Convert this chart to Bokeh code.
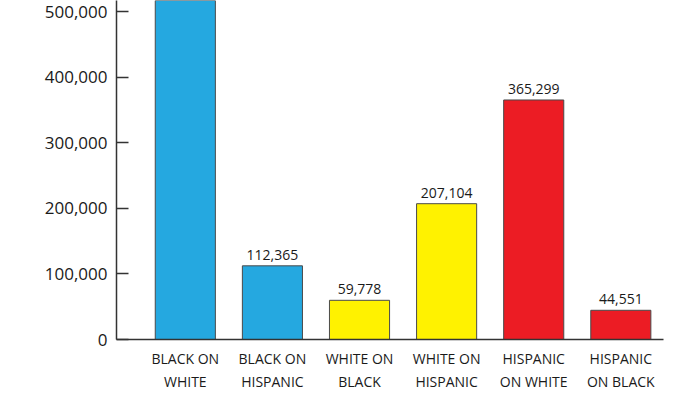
from bokeh.plotting import figure
from bokeh.models import FixedTicker, NumeralTickFormatter, ColumnDataSource, Range1d
from bokeh.embed import file_html
from bokeh.resources import INLINE
from bokeh.core.properties import value

categories = ["BLACK ON\nWHITE", "BLACK ON\nHISPANIC", "WHITE ON\nBLACK",
              "WHITE ON\nHISPANIC", "HISPANIC\nON WHITE", "HISPANIC\nON BLACK"]
values = [560600, 112365, 59778, 207104, 365299, 44551]
# first bar's label lies above the visible area in the reference (not shown)
value_labels = ["", "112,365", "59,778", "207,104", "365,299", "44,551"]
colors = ["#25a8e0", "#25a8e0", "#fff200", "#fff200", "#ec1c24", "#ec1c24"]
y_ticks = [0, 100000, 200000, 300000, 400000, 500000]

xs = list(range(len(categories)))
src = ColumnDataSource(dict(x=xs, top=values, label=value_labels, color=colors))

p = figure(width=700, height=394, output_backend="svg", toolbar_location=None,
           x_range=Range1d(-0.79, 5.49), y_range=Range1d(0, 517000),
           min_border_left=116, min_border_right=37, min_border_top=0,
           min_border_bottom=54)
p.outline_line_color = None
p.grid.visible = False
p.background_fill_color = "white"
p.border_fill_color = "white"

p.vbar(x="x", top="top", width=0.69, bottom=0, fill_color="color",
       line_color="#4a4a4a", line_width=1, source=src)
p.text(x="x", y="top", text="label", source=src, y_offset=-6,
       text_align="center", text_baseline="bottom", text_font_size="14px",
       text_font=value("Open Sans"), text_color="#1a1a1a")

ya = p.yaxis[0]
ya.ticker = FixedTicker(ticks=y_ticks)
ya.formatter = NumeralTickFormatter(format="0,0")
ya.major_tick_in = 12
ya.major_tick_out = 0
ya.minor_tick_line_color = None
ya.major_label_standoff = 9
ya.major_label_text_font = "Open Sans"
ya.major_label_text_font_size = "17px"
ya.major_label_text_color = "#1a1a1a"
ya.axis_line_color = "#333333"
ya.axis_line_width = 1.5
ya.major_tick_line_color = "#333333"
ya.major_tick_line_width = 1.5

xa = p.xaxis[0]
xa.ticker = FixedTicker(ticks=xs)
xa.major_label_overrides = {i: c for i, c in zip(xs, categories)}
xa.major_tick_line_color = None
xa.minor_tick_line_color = None
xa.major_label_standoff = 3
xa.major_label_text_font = "Open Sans"
xa.major_label_text_font_size = "14px"
xa.major_label_text_color = "#1a1a1a"
xa.major_label_text_line_height = 1.25
xa.axis_line_color = "#333333"
xa.axis_line_width = 1.5

open("out.html", "w").write(file_html(p, INLINE))
